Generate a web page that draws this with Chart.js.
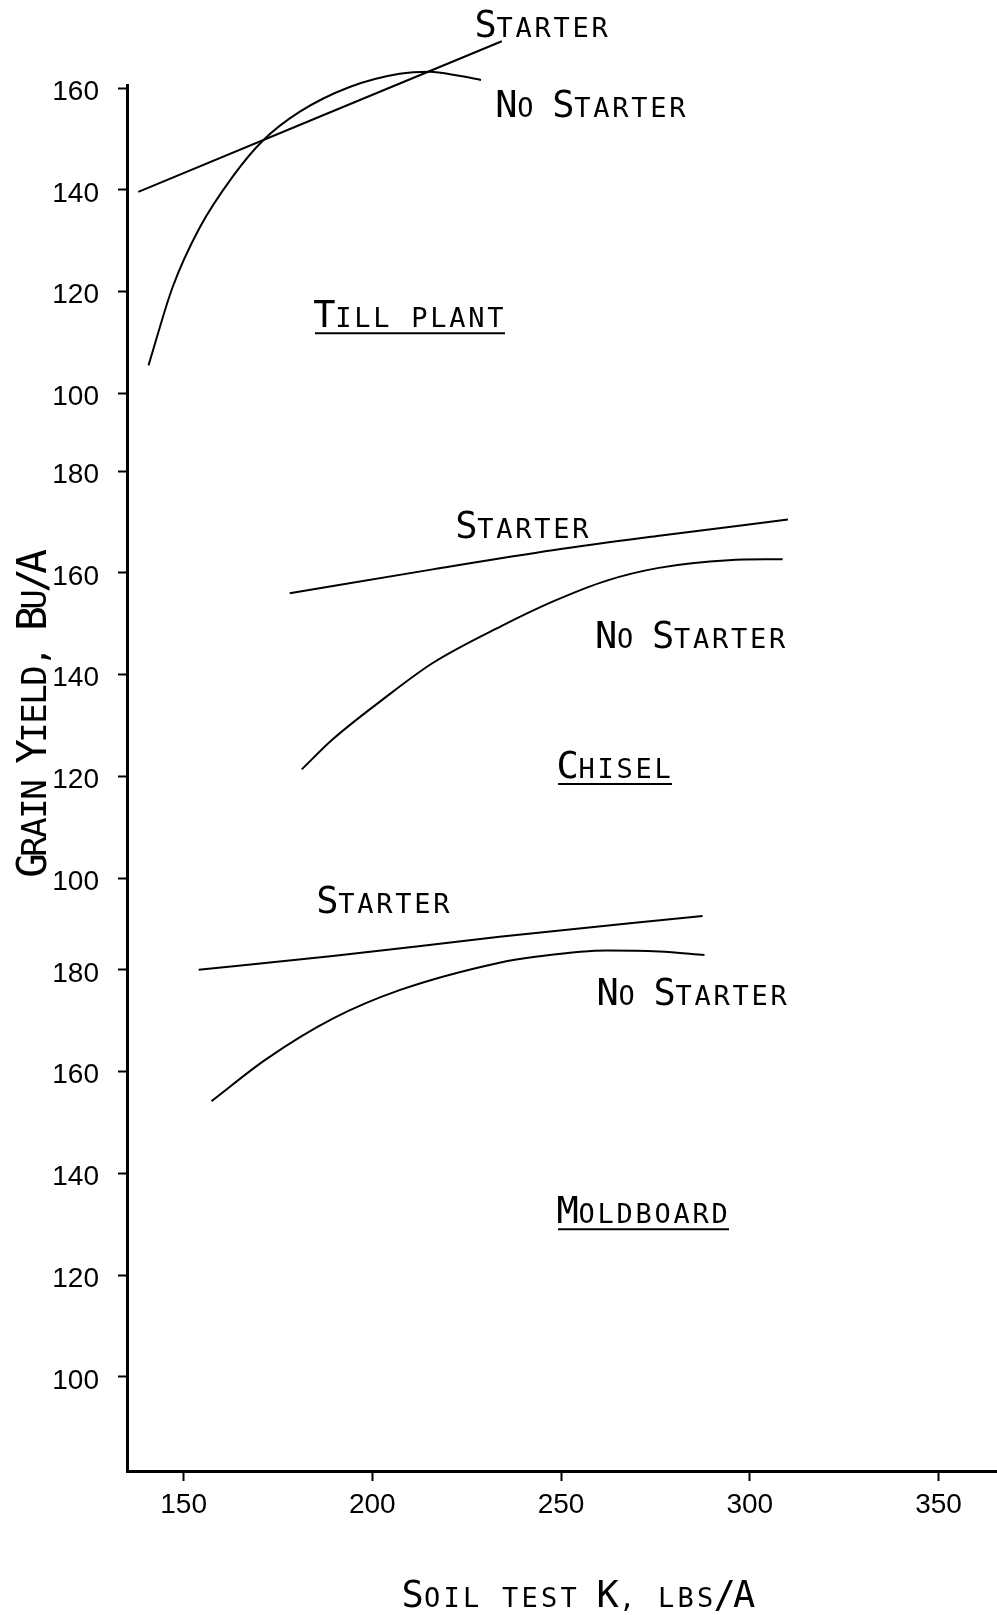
<!DOCTYPE html>
<html>
<head>
<meta charset="utf-8">
<title>Grain yield vs soil test K</title>
<script src="https://cdn.jsdelivr.net/npm/chart.js@4.4.0/dist/chart.umd.min.js"></script>
<style>
  html, body { margin: 0; padding: 0; background: #fff; }
  #div-canvas-yield { width: 997px; height: 1615px; }
</style>
</head>
<body>
<div id="div-canvas-yield"><canvas id="canvas-yield" width="997" height="1615"></canvas></div>
<script>
// values: soil test K (lbs/A) and grain yield (bu/A)
const tillStarterK = [138, 234.3];
const tillStarterYield = [139.6, 169.2];
const tillNoStarterK = [140.7, 147.1, 154.2, 163, 170.9, 180.7, 194, 207.2, 215.2, 223, 228.8];
const tillNoStarterYield = [105.5, 120.9, 132.5, 142.6, 149.6, 155.3, 160.2, 162.8, 163.2, 162.4, 161.6];

const chiselStarterK = [178.1, 216, 248.2, 276, 310.1];
const chiselStarterYield = [156.0, 160.7, 164.5, 167.3, 170.5];
const chiselNoStarterK = [181.3, 189.5, 202.7, 216, 234.3, 248.2, 262.1, 275.9, 294.4, 308.7];
const chiselNoStarterYield = [121.4, 127.3, 135.1, 142.3, 149.6, 154.5, 158.5, 161.0, 162.5, 162.7];

const moldStarterK = [154, 189.5, 233.7, 287.5];
const moldStarterYield = [180.0, 182.7, 186.5, 190.6];
const moldNoStarterK = [157.4, 172, 189.5, 207.2, 233.7, 243.7, 262.1, 276, 288];
const moldNoStarterYield = [154.2, 162.5, 170.4, 176.0, 181.4, 182.6, 183.8, 183.6, 182.9];

// tick labels
const xTicks = [150, 200, 250, 300, 350];
const tillTicks = [100, 120, 140, 160];
const chiselTicks = [100, 120, 140, 160, 180];
const moldTicks = [100, 120, 140, 160, 180];

// text on the plot (anchored in data units)
const labelTexts = ['Starter', 'No Starter', 'Till plant', 'Starter', 'No Starter', 'Chisel', 'Starter', 'No Starter', 'Moldboard'];
const labelPanels = ['till', 'till', 'till', 'chisel', 'chisel', 'chisel', 'mold', 'mold', 'mold'];
const labelK = [227.5, 233, 184.8, 222.4, 259.4, 249.2, 185.6, 259.8, 249.2];
const labelYield = [170, 154.3, 113, 166.9, 145.3, 119.7, 191.2, 173.1, 130.2];
const panelNames = ['Till plant', 'Chisel', 'Moldboard'];

//---------------------------------------------------------------------------
// the three panels are stacked on one y scale, each one shifted up
const panelShift = { mold: 0, chisel: 98, till: 193.3 };

let yTickVals = [];
let yTickText = [];
moldTicks.forEach(v => { yTickVals.push(v + panelShift.mold); yTickText.push(String(v)) });
chiselTicks.forEach(v => { yTickVals.push(v + panelShift.chisel); yTickText.push(String(v)) });
tillTicks.forEach(v => { yTickVals.push(v + panelShift.till); yTickText.push(String(v)) });

function makeCurve(ks, ys, panel) {
    return {
        data: ks.map((k, i) => ({ x: k, y: ys[i] + panelShift[panel] })),
        borderColor: '#000',
        borderWidth: 2,
        pointRadius: 0,
        fill: false,
        cubicInterpolationMode: 'monotone',
        clip: false
    };
}

// small caps like the plotter lettering: capitals big, the rest small, fixed pitch
function drawCaps(ctx, text, x, y, big, small, pitch) {
    ctx.textAlign = 'center';
    ctx.textBaseline = 'alphabetic';
    for (let i = 0; i < text.length; i++) {
        let ch = text[i];
        if (ch == ' ') continue;
        let isBig = (ch != ch.toLowerCase()) || ch == '/';
        ctx.font = (isBig ? big : small) + 'px "DejaVu Sans Mono"';
        ctx.fillText(ch.toUpperCase(), x + pitch * (i + 0.5), y);
    }
}

const textPlugin = {
    id: 'plotText',
    afterDraw(chart) {
        const ctx = chart.ctx;
        const xs = chart.scales.x;
        const ys = chart.scales.y;
        ctx.save();
        ctx.fillStyle = '#000';
        ctx.strokeStyle = '#000';
        for (let i = 0; i < labelTexts.length; i++) {
            let px = xs.getPixelForValue(labelK[i]);
            let py = ys.getPixelForValue(labelYield[i] + panelShift[labelPanels[i]]);
            drawCaps(ctx, labelTexts[i], px, py, 37, 27, 19);
            if (panelNames.includes(labelTexts[i])) {
                ctx.lineWidth = 2;
                ctx.beginPath();
                ctx.moveTo(px, py + 6);
                ctx.lineTo(px + labelTexts[i].length * 19, py + 6);
                ctx.stroke();
            }
        }
        // axis titles
        drawCaps(ctx, 'Soil test K, lbs/A', 403, 1607, 37, 27, 19.5);
        ctx.translate(46, 875);
        ctx.rotate(-Math.PI / 2);
        drawCaps(ctx, 'Grain Yield, Bu/A', 0, 0, 41, 34, 19);
        ctx.restore();
    }
};

let ctx = document.getElementById('canvas-yield').getContext('2d');
let myChartYield = new Chart(ctx, {
    type: 'line',
    data: {
        datasets: [
            makeCurve(tillStarterK, tillStarterYield, 'till'),
            makeCurve(tillNoStarterK, tillNoStarterYield, 'till'),
            makeCurve(chiselStarterK, chiselStarterYield, 'chisel'),
            makeCurve(chiselNoStarterK, chiselNoStarterYield, 'chisel'),
            makeCurve(moldStarterK, moldStarterYield, 'mold'),
            makeCurve(moldNoStarterK, moldNoStarterYield, 'mold')
        ]
    },
    options: {
        responsive: false,
        animation: false,
        devicePixelRatio: 1,
        layout: { padding: { top: 85, left: 0, right: 0, bottom: 0 } },
        plugins: {
            legend: { display: false },
            tooltip: { enabled: false }
        },
        scales: {
            x: {
                type: 'linear',
                min: 135,
                max: 365.5,
                afterBuildTicks: axis => { axis.ticks = xTicks.map(v => ({ value: v })) },
                afterFit: axis => { axis.height = 144 },
                border: { display: true, color: '#000', width: 3 },
                grid: { drawOnChartArea: false, drawTicks: true, tickLength: 10, tickWidth: 2, color: '#000', tickColor: '#000' },
                ticks: {
                    color: '#000',
                    font: { family: '"Liberation Sans"', size: 28 },
                    padding: 7,
                    autoSkip: false,
                    maxRotation: 0
                }
            },
            y: {
                type: 'linear',
                min: 81.5,
                max: 353.9,
                afterBuildTicks: axis => { axis.ticks = yTickVals.map(v => ({ value: v })) },
                afterFit: axis => { axis.width = 127 },
                border: { display: true, color: '#000', width: 3 },
                grid: { drawOnChartArea: false, drawTicks: true, tickLength: 9, tickWidth: 2, color: '#000', tickColor: '#000' },
                ticks: {
                    color: '#000',
                    font: { family: '"Liberation Sans"', size: 28 },
                    padding: 19,
                    labelOffset: 4,
                    autoSkip: false,
                    callback: (value, index) => yTickText[index]
                }
            }
        }
    },
    plugins: [textPlugin]
});
</script>
</body>
</html>
